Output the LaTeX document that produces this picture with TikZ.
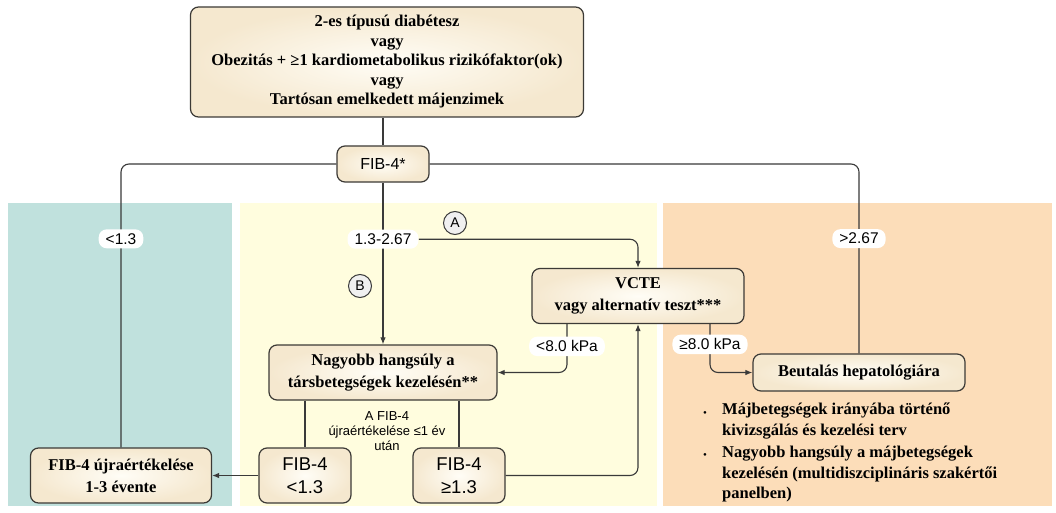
\documentclass[tikz,border=0pt]{standalone}
\usepackage{fontspec}
\setmainfont{Liberation Serif}
\setsansfont{Liberation Sans}
\usetikzlibrary{arrows.meta}
\definecolor{tealbg}{HTML}{C0E1DD}
\definecolor{yelbg}{HTML}{FFFDDE}
\definecolor{orbg}{HTML}{FCDDB9}
\definecolor{boxin}{HTML}{FFFDF6}
\definecolor{boxout}{HTML}{F5E8CF}
\definecolor{boxline}{HTML}{3C3A36}
\definecolor{lineclr}{HTML}{3A3A3A}
\begin{document}
\begin{tikzpicture}[x=1pt,y=-1pt,
 box/.style={draw=boxline, line width=1.2pt, rounded corners=8pt, inner color=boxin, outer color=boxout, align=center, font=\bfseries\fontsize{16.5}{22}\selectfont, inner sep=0pt},
 sansbox/.style={font=\sffamily\fontsize{18.5}{23}\selectfont},
 lbl/.style={fill=white, text=black, font=\sffamily\fontsize{15.5}{18}\selectfont, inner xsep=7pt, inner ysep=4pt},
 conn/.style={draw=lineclr, line width=1.1pt, rounded corners=8pt},
 arr/.style={conn, -{Latex[length=7pt,width=5.5pt]}},
 circ/.style={circle, draw=lineclr, line width=1pt, fill=gray!12, minimum size=23pt, inner sep=0pt, font=\sffamily\fontsize{14}{14}\selectfont},
 bul/.style={font=\bfseries\fontsize{16.5}{20.5}\selectfont, align=left, anchor=north west, inner sep=0pt},
]
\useasboundingbox (0,0) rectangle (1056,513);
\fill[white] (0,0) rectangle (1056,513);
\fill[tealbg] (8,203) rectangle (232,506);
\fill[yelbg] (240,203) rectangle (657,506);
\fill[orbg] (663,203) rectangle (1052,506);

\node[box, minimum width=393pt, minimum height=110pt, font=\bfseries\fontsize{16.5}{19.5}\selectfont] (top) at (387,62)
  {\rule{0pt}{8pt}2-es típusú diabétesz\\vagy\\Obezitás + ≥1 kardiometabolikus rizikófaktor(ok)\\vagy\\Tartósan emelkedett májenzimek};
\node[box, font=\sffamily\fontsize{16}{19}\selectfont, minimum width=92pt, minimum height=36pt] (fib) at (383,164) {FIB-4*};
\node[box, minimum width=212pt, minimum height=55pt] (vcte) at (638,296) {VCTE\\vagy alternatív teszt***};
\node[box, minimum width=228pt, minimum height=55pt] (nagy) at (383,372.5) {Nagyobb hangsúly a\\társbetegségek kezelésén**};
\node[box, sansbox, minimum width=92pt, minimum height=55pt] (fiblt) at (305,475.5) {FIB-4\\<1.3};
\node[box, sansbox, minimum width=92pt, minimum height=55pt] (fibge) at (459,475.5) {FIB-4\\≥1.3};
\node[box, minimum width=181pt, minimum height=55pt] (reeval) at (121,475.5) {FIB-4 újraértékelése\\1-3 évente};
\node[box, minimum width=212pt, minimum height=37pt] (beut) at (859,372.5) {Beutalás hepatológiára};

\draw[conn] (fib.north |- top.south) -- (fib.north);
\draw[conn] (fib.west) -| node[lbl,pos=0.632]{<1.3} (reeval.north);
\draw[conn] (fib.east) -| node[lbl,pos=0.697]{>2.67} (beut.north);
\draw[arr] (fib.south) -- node[lbl,pos=0.35] (lmid) {1.3-2.67} (nagy.north);
\draw[arr] (lmid.east) -| (vcte.north);
\draw[arr] ([xshift=-71pt]vcte.south) |- node[lbl,pos=0.23]{<8.0 kPa} (nagy.east);
\draw[arr] ([xshift=72pt]vcte.south) |- node[lbl,pos=0.21]{≥8.0 kPa} (beut.west);
\draw[arr] (fibge.east) -| (vcte.south);
\draw[arr] (fiblt.west) -- (reeval.east);
\draw[conn] (nagy.south -| fiblt.north) -- (fiblt.north);
\draw[conn] (nagy.south -| fibge.north) -- (fibge.north);

\node[circ] (cA) at (455,223) {A};
\node[circ] (cB) at (360,286) {B};

\node[font=\sffamily\fontsize{13}{15}\selectfont, align=center] (note) at (387,431) {A FIB-4\\újraértékelése ≤1 év\\után};

\node[bul] (b1) at (722,403) {Májbetegségek irányába történő\\kivizsgálás és kezelési terv};
\node[bul] (b2) at (722,446) {Nagyobb hangsúly a májbetegségek\\kezelésén (multidiszciplináris szakértői\\panelben)};
\node[font=\fontsize{11}{11}\selectfont] (d1) at (705,414) {\textbullet};
\node[font=\fontsize{11}{11}\selectfont] (d2) at (705,456) {\textbullet};
\end{tikzpicture}
\end{document}
